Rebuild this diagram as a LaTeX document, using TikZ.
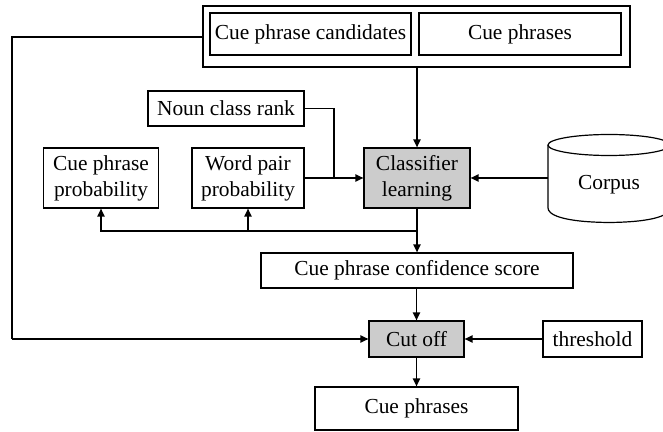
\documentclass[tikz,border=0pt]{standalone}
\usepackage{fontspec}
\setmainfont{Liberation Serif}
\usetikzlibrary{arrows.meta,shadows}
\begin{document}
\begin{tikzpicture}[x=0.5pt,y=-0.5pt,
  font=\fontsize{10.7}{13}\selectfont,
  box/.style={draw=black,line width=0.6pt,fill=white,inner sep=0pt,align=center,
    drop shadow={shadow xshift=0.7pt,shadow yshift=-0.7pt,fill=black!60,opacity=0.8}},
  plainbox/.style={draw=black,line width=0.6pt,fill=white,inner sep=0pt,align=center},
  graybox/.style={box,fill=black!20},
  conn/.style={line width=0.75pt,-{Triangle[length=4pt,width=3.6pt]}},
  line/.style={line width=0.75pt}]
\useasboundingbox (0,0) rectangle (663,432);
% top group
\node[plainbox,minimum width=213.5pt,minimum height=30.5pt] (top) at (416.5,36.5) {};
\node[box,minimum width=100.5pt,minimum height=21pt] (cand) at (310.5,34) {Cue phrase candidates};
\node[box,minimum width=101pt,minimum height=21pt] (cue1) at (520,34) {Cue phrases};
% middle
\node[plainbox,minimum width=78pt,minimum height=17.5pt] (noun) at (226,108.5) {Noun class rank};
\node[graybox,minimum width=53pt,minimum height=30pt] (cls) at (417,178) {Classifier\\learning};
\node[plainbox,minimum width=57.5pt,minimum height=30pt] (cpp) at (101,178) {Cue phrase\\probability};
\node[plainbox,minimum width=56pt,minimum height=30pt] (wpp) at (248,178) {Word pair\\probability};
% corpus cylinder
\draw[line width=0.6pt,fill=white] (548,145) -- (548,208)
  .. controls (548,214) and (560,222) .. (609,222.5)
  .. controls (658,222) and (670,214) .. (670,208) -- (670,145);
\draw[line width=0.6pt,fill=white] (609,145) ellipse[x radius=61,y radius=10.5];
\node[inner sep=0pt,minimum width=57pt,minimum height=20pt] (corpus) at (609,185) {Corpus};
\coordinate (corpw) at (548,178);
% lower
\node[plainbox,minimum width=156pt,minimum height=17.5pt] (conf) at (417,270.5) {Cue phrase confidence score};
\node[graybox,minimum width=47.5pt,minimum height=18pt] (cut) at (416.5,339) {Cut off};
\node[plainbox,minimum width=49.5pt,minimum height=18pt] (thr) at (592.5,339) {threshold};
\node[plainbox,minimum width=101.5pt,minimum height=21.5pt] (out) at (416.5,408.5) {Cue phrases};
% helper coordinates
\coordinate (lt) at (12,37);
\coordinate (lb) at (12,339);
\coordinate (j1) at (334,178);
\coordinate (br) at (417,231);
% connectors
\draw[line] (top.west |- lt) -- (lt) -- (lb);
\draw[conn] (lb) -- (cut.west);
\draw[conn] (top.south -| cls.north) -- (cls.north);
\draw[line] (noun.east) -| (j1);
\draw[conn] (wpp.east) -- (cls.west);
\draw[conn] (corpw) -- (cls.east);
\draw[line] (cls.south) -- (br);
\draw[conn] (br) -- (conf.north -| br);
\draw[conn] (br) -| (cpp.south);
\draw[conn] (br) -| (wpp.south);
\draw[conn] (conf.south -| cut.north) -- (cut.north);
\draw[conn] (thr.west) -- (cut.east);
\draw[conn] (cut.south) -- (out.north);
\end{tikzpicture}
\end{document}
